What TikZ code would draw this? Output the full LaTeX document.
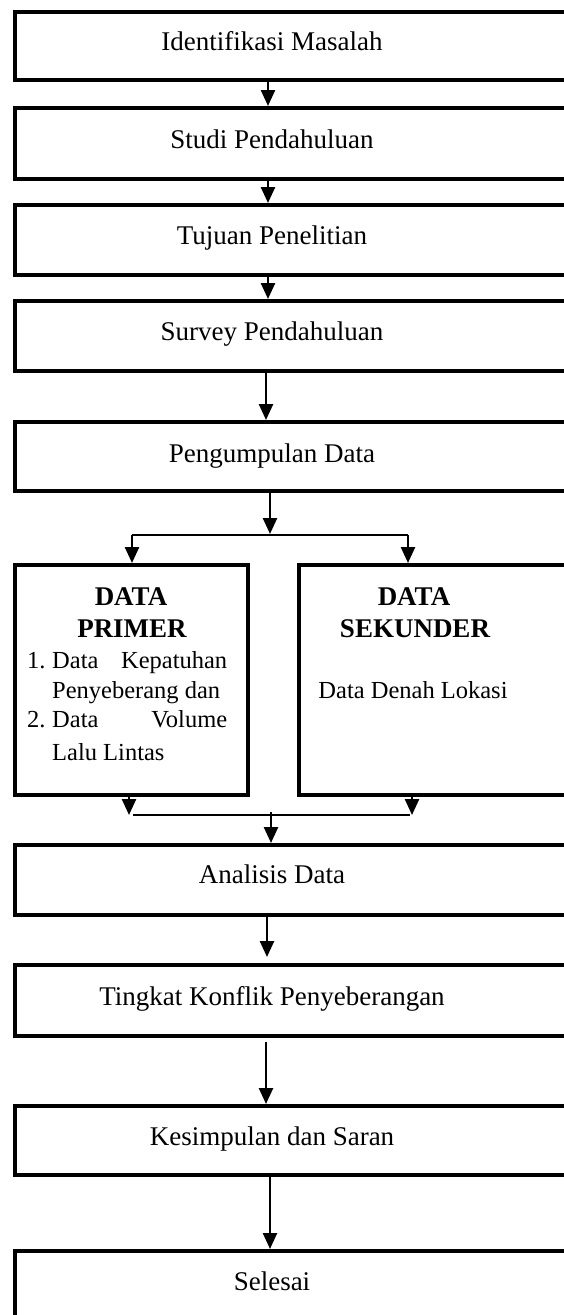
\documentclass[tikz,border=0pt]{standalone}
\usepackage{fontspec}
\setmainfont{Liberation Serif}[Ligatures={TeX,NoCommon}]
\usetikzlibrary{arrows.meta}

\begin{document}
\begin{tikzpicture}[x=1pt,y=-1pt,
  box/.style={draw=black, line width=4pt, rectangle, inner sep=0pt, anchor=north west},
  rowbox/.style={box, minimum width=620pt},
  lbl/.style={inner sep=0pt, anchor=base, font=\fontsize{27}{31}\selectfont},
  sub/.style={inner sep=0pt, anchor=base, font=\fontsize{24.5}{30}\selectfont},
  subw/.style={sub, anchor=base west},
  hd/.style={lbl, font=\fontsize{27}{31}\selectfont\bfseries},
  arr/.style={line width=2.5pt, -{Triangle[length=16pt,width=14pt]}},
  link/.style={line width=2.2pt}]

\useasboundingbox (0,0) rectangle (564,1315);
\clip (0,0) rectangle (564,1315);

% ---- boxes (north west anchor sits 2pt outside the border line) ----
\node[rowbox, minimum height=68pt] (b1) at (13,10)   {};
\node[rowbox, minimum height=71pt] (b2) at (13,106)  {};
\node[rowbox, minimum height=70pt] (b3) at (13,203)  {};
\node[rowbox, minimum height=70pt] (b4) at (13,299)  {};
\node[rowbox, minimum height=69pt] (b5) at (13,420)  {};
\node[box, minimum width=233pt, minimum height=230pt] (bp) at (13,563)  {};
\node[box, minimum width=400pt, minimum height=230pt] (bs) at (297,563) {};
\node[rowbox, minimum height=70pt] (b6) at (13,843)  {};
\node[rowbox, minimum height=71pt] (b7) at (13,963)  {};
\node[rowbox, minimum height=69pt] (b8) at (13,1104) {};
\node[rowbox, minimum height=120pt] (b9) at (13,1249) {};

% ---- texts ----
\node[lbl] (t1) at (272,50)   {Identifikasi Masalah};
\node[lbl] (t2) at (272,148)  {Studi Pendahuluan};
\node[lbl] (t3) at (272,244)  {Tujuan Penelitian};
\node[lbl] (t4) at (272,340)  {Survey Pendahuluan};
\node[lbl] (t5) at (272,462)  {Pengumpulan Data};

\node[hd] (tp1) at (131,605) {DATA};
\node[hd] (tp2) at (132,637) {PRIMER};
\node[subw] (tp3) at (27,668) {\makebox[25pt][l]{1.}\makebox[175pt][s]{Data Kepatuhan}};
\node[subw] (tp4) at (52,698) {Penyeberang dan};
\node[subw] (tp5) at (27,727) {\makebox[25pt][l]{2.}\makebox[175pt][s]{Data Volume}};
\node[subw] (tp6) at (52,760) {Lalu Lintas};

\node[hd] (ts1) at (414,605) {DATA};
\node[hd] (ts2) at (415,637) {SEKUNDER};
\node[sub] (ts3) at (413,698) {Data Denah Lokasi};

\node[lbl] (t6) at (272,883)  {Analisis Data};
\node[lbl] (t7) at (272,1005) {Tingkat Konflik Penyeberangan};
\node[lbl] (t8) at (272,1145) {Kesimpulan dan Saran};
\node[lbl] (t9) at (272,1290) {Selesai};

% ---- connector columns and junctions ----
\coordinate (c268) at (268,0);
\coordinate (c266) at (266,0);
\coordinate (c267) at (267,0);
\coordinate (c270) at (270,0);
\coordinate (jt) at (270,535);
\coordinate (jl) at (132,535);
\coordinate (jr) at (408,535);
\coordinate (kl) at (129,815);
\coordinate (kr) at (412,815);
\coordinate (kla) at (133,815);
\coordinate (kra) at (410,815);
\coordinate (kc) at (271,812);

% ---- main flow ----
\draw[arr] (b1.south -| c268) -- (b2.north -| c268);
\draw[arr] (b2.south -| c268) -- (b3.north -| c268);
\draw[arr] (b3.south -| c268) -- (b4.north -| c268);
\draw[arr] (b4.south -| c266) -- (b5.north -| c266);
\draw[arr, shorten >=1pt] (b5.south -| c270) -- (jt);

% ---- split into primary / secondary data ----
\draw[link] (jl) -- (jr);
\draw[arr] (jl) -- (jl |- bp.north);
\draw[arr] (jr) -- (jr |- bs.north);

% ---- merge into analysis ----
\draw[arr] (bp.south -| kl) -- (kl);
\draw[arr] (bs.south -| kr) -- (kr);
\draw[link] (kla) -- (kra);
\draw[arr] (kc) -- (b6.north -| kc);

% ---- final steps ----
\draw[arr, shorten >=6pt] (b6.south -| c267) -- (b7.north -| c267);
\draw[arr, shorten <=4pt] (b7.south -| c266) -- (b8.north -| c266);
\draw[arr] (b8.south -| c270) -- (b9.north -| c270);

\end{tikzpicture}
\end{document}
